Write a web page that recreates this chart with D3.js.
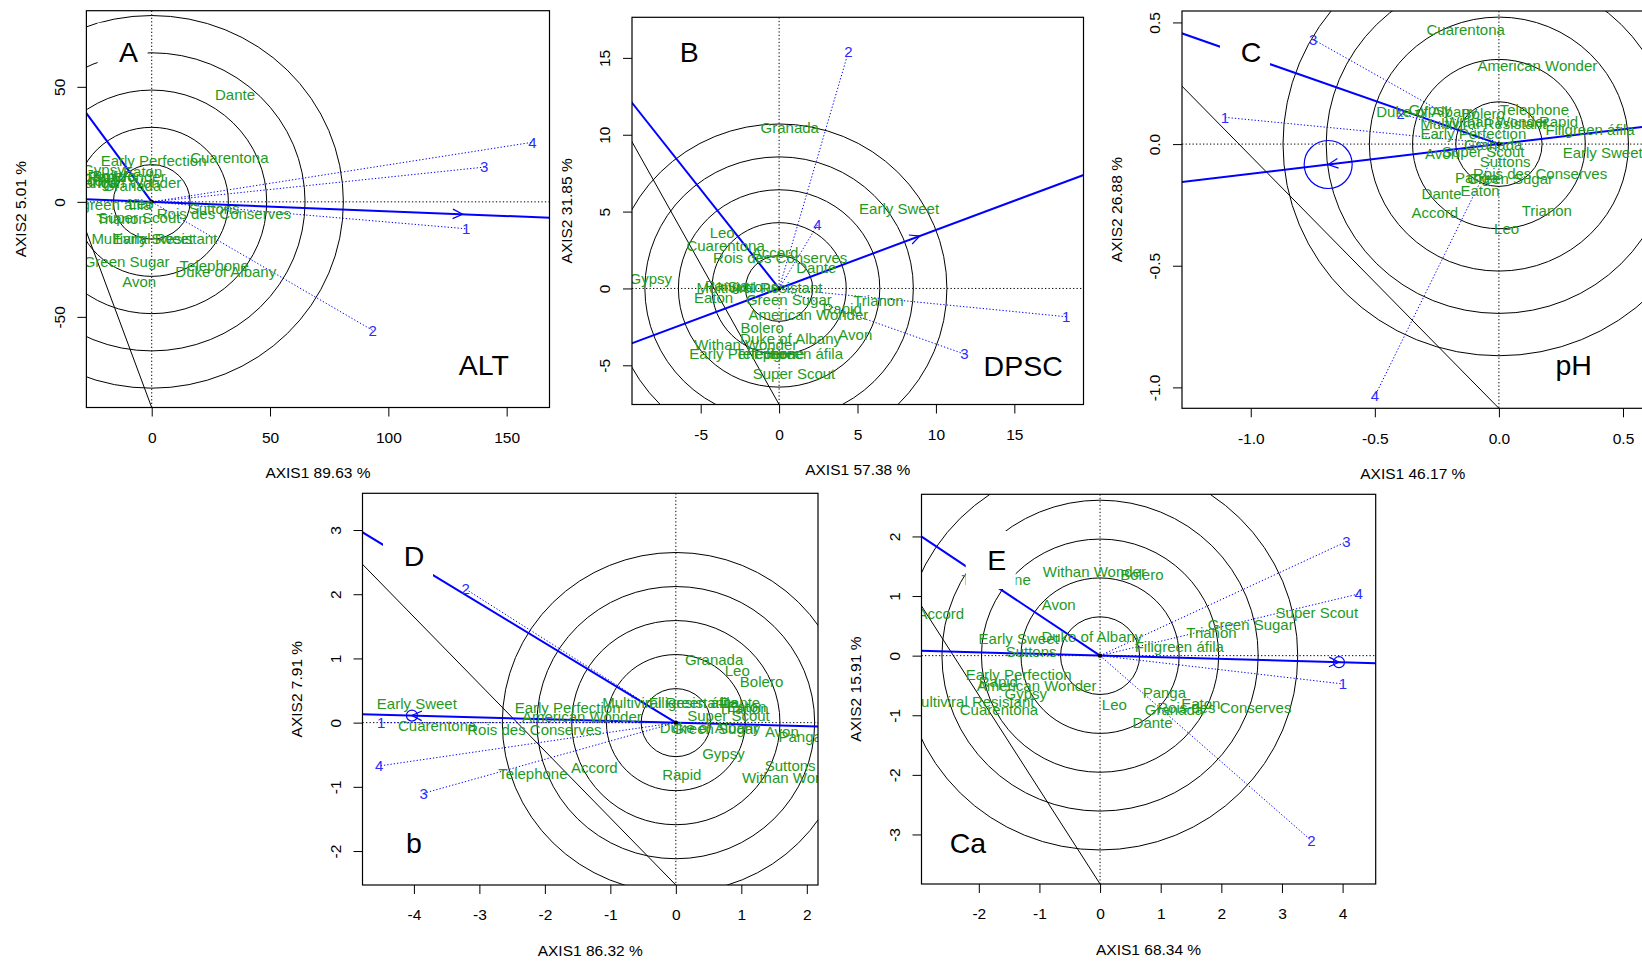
<!DOCTYPE html>
<html><head><meta charset="utf-8">
<script src="https://cdn.jsdelivr.net/npm/d3@7"></script>
<style>body{margin:0;background:#fff}svg{display:block}</style>
</head><body>
<svg id="c" width="1642" height="962"></svg>
<script>
// ---------------- DATA ----------------
const genotypes = ["Accord","American Wonder","Avon","Bolero","Cuarentona","Dante","Duke of Albany",
  "Early Perfection","Early Sweet","Eaton","Filigreen áfila","Green Sugar","Granada","Gypsy","Leo",
  "Multiviral Resistant","Panga","Rapid","Rois des Conserves","Super Scout","Suttons","Telephone",
  "Trianon","Withan Wonder"];
const envNames = ["1","2","3","4"];

// Panel A (ALT)
const altGenX = [-24.9,-12.8,-5.3,-15.9,32.8,35.2,31.3,0.8,0.5,-3.8,-18.9,-10.6,-8.3,-20.4,-4.5,1.1,-23.4,-18.9,30.5,-5.3,26.4,26.4,-12.8,-15.9];
const altGenY = [9.3,8.5,-34.6,11.4,19.0,46.6,-30.5,17.9,-16.1,13.3,-1.2,-25.9,7.1,13.9,-0.9,-16.1,8.1,11.0,-5.2,-6.9,-3.0,-27.9,-7.4,10.7];
const altEnvX = [132.9,93.4,140.5,160.9];
const altEnvY = [-11.7,-55.9,15.1,25.9];
const altAvg = [131.4,-5.4];
const altPerp = [-27.6,38.5];
const altBlack = [[-27.6,-13],[0,-89.4]];
const altRing = 16.2;
const altXTicks = [0,50,100,150], altXLabels = ["0","50","100","150"];
const altYTicks = [-50,0,50], altYLabels = ["-50","0","50"];

// Panel B (DPSC)
const dpscGenX = [-0.26,1.87,4.86,-1.08,-3.41,2.37,0.73,-2.35,7.65,-4.18,1.23,0.62,0.68,-8.18,-3.63,-1.25,-3.34,4.02,0.07,0.95,-1.67,-0.59,6.33,-2.13];
const dpscGenY = [2.34,-1.69,-2.99,-2.56,2.75,1.34,-3.25,-4.27,5.16,-0.59,-4.27,-0.76,10.48,0.65,3.62,0.07,0.15,-1.30,2.02,-5.53,0.12,-4.23,-0.82,-3.64];
const dpscEnvX = [18.31,4.42,11.82,2.44];
const dpscEnvY = [-1.84,15.40,-4.27,4.12];
const dpscAvg = [8.97,3.41];
const dpscPerp = [-9.38,12.08];
const dpscBlack = [[-9.38,9.54],[0,-7.55]];
const dpscRing = 2.14;
const dpscXTicks = [-5,0,5,10,15], dpscXLabels = ["-5","0","5","10","15"];
const dpscYTicks = [-5,0,5,10,15], dpscYLabels = ["-5","0","5","10","15"];

// Panel C (pH)
const phGenX = [-0.258,0.155,-0.229,-0.063,-0.134,-0.231,-0.291,-0.103,0.418,-0.076,0.367,0.045,-0.023,-0.278,0.031,-0.063,-0.090,0.240,0.166,-0.063,0.025,0.143,0.193,-0.009];
const phGenY = [-0.282,0.321,-0.038,0.126,0.471,-0.203,0.133,0.041,-0.036,-0.192,0.058,-0.141,-0.004,0.142,-0.347,0.085,-0.137,0.092,-0.121,-0.032,-0.073,0.140,-0.274,0.092];
const phEnvX = [-1.104,-0.396,-0.748,-0.500];
const phEnvY = [0.110,0.126,0.430,-1.036];
const phAvg = [-0.688,-0.084];
const phPerp = [-1.277,0.455];
const phBlack = [[-1.277,0.238],[0,-1.086]];
const phRing = 0.174;
const phXTicks = [-1.0,-0.5,0.0,0.5], phXLabels = ["-1.0","-0.5","0.0","0.5"];
const phYTicks = [-1.0,-0.5,0.0,0.5], phYLabels = ["-1.0","-0.5","0.0","0.5"];

// Panel D (b)
const bGenX = [-1.244,-1.435,1.619,1.309,-3.644,0.982,0.524,-1.653,-3.955,1.084,0.269,0.600,0.584,0.727,0.938,-0.163,1.899,0.091,-2.160,0.804,1.746,-2.182,1.033,1.797];
const bGenY = [-0.701,0.093,-0.140,0.633,-0.047,0.302,-0.087,0.234,0.291,0.249,0.302,-0.103,0.976,-0.477,0.805,0.312,-0.227,-0.804,-0.114,0.104,-0.674,-0.800,0.224,-0.866];
const bEnvX = [-4.50,-3.21,-3.85,-4.53];
const bEnvY = [0.0,2.08,-1.10,-0.675];
const bAvg = [-4.03,0.11];
const bPerp = [-4.785,2.965];
const bBlack = [[-4.785,2.466],[0,-2.529]];
const bRing = 0.53;
const bXTicks = [-4,-3,-2,-1,0,1,2], bXLabels = ["-4","-3","-2","-1","0","1","2"];
const bYTicks = [-2,-1,0,1,2,3], bYLabels = ["-2","-1","0","1","2","3"];

// Panel E (Ca)
const caGenX = [-2.627,-1.048,-0.683,0.689,-1.667,0.866,-0.135,-1.343,-1.343,1.661,1.307,2.485,1.219,-1.225,0.236,-2.120,1.060,-1.677,2.05,3.575,-1.137,-1.714,1.837,-0.094];
const caGenY = [0.699,-0.503,0.850,1.365,-0.900,-1.124,0.319,-0.324,0.291,-0.811,0.151,0.515,-0.912,-0.632,-0.828,-0.772,-0.621,-0.436,-0.867,0.727,0.067,1.270,0.391,1.409];
const caEnvX = [4.005,3.486,4.064,4.264];
const caEnvY = [-0.475,-3.104,1.913,1.035];
const caAvg = [3.94,-0.11];
const caPerp = [-2.945,1.997];
const caBlack = [[-2.945,0.833],[0,-3.831]];
const caRing = 0.652;
const caXTicks = [-2,-1,0,1,2,3,4], caXLabels = ["-2","-1","0","1","2","3","4"];
const caYTicks = [-3,-2,-1,0,1,2], caYLabels = ["-3","-2","-1","0","1","2"];

// ---------------- LAYOUT / OPTIONS ----------------
const panels = [
  {id:"A", letter:"A", letterXY:[128.6,61.7], corner:"ALT", cornerXY:[483.9,375],
   box:{l:86.4,r:549.5,t:10.7,b:407.5}, xdom:[-27.6,168.1], ydom:[-89.4,83.1],
   xt:altXTicks, xtl:altXLabels, yt:altYTicks, ytl:altYLabels, xlab:"AXIS1 89.63 %", ylab:"AXIS2 5.01 %",
   gx:altGenX, gy:altGenY, ex:altEnvX, ey:altEnvY, avg:altAvg, perp:altPerp, blk:altBlack, ring:altRing, avgR:0},
  {id:"B", letter:"B", letterXY:[689.2,61.7], corner:"DPSC", cornerXY:[1023.2,375.7],
   box:{l:632,r:1083.5,t:17.3,b:404.5}, xdom:[-9.38,19.41], ydom:[-7.55,17.64],
   xt:dpscXTicks, xtl:dpscXLabels, yt:dpscYTicks, ytl:dpscYLabels, xlab:"AXIS1 57.38 %", ylab:"AXIS2 31.85 %",
   gx:dpscGenX, gy:dpscGenY, ex:dpscEnvX, ey:dpscEnvY, avg:dpscAvg, perp:dpscPerp, blk:dpscBlack, ring:dpscRing, avgR:0},
  {id:"C", letter:"C", letterXY:[1251,61.7], corner:"pH", cornerXY:[1573.6,375],
   box:{l:1182,r:1643.6,t:11,b:408.3}, xdom:[-1.277,0.583], ydom:[-1.086,0.547],
   xt:phXTicks, xtl:phXLabels, yt:phYTicks, ytl:phYLabels, xlab:"AXIS1 46.17 %", ylab:"AXIS2 26.88 %",
   gx:phGenX, gy:phGenY, ex:phEnvX, ey:phEnvY, avg:phAvg, perp:phPerp, blk:phBlack, ring:phRing, avgR:24},
  {id:"D", letter:"D", letterXY:[414,565.7], corner:"b", cornerXY:[414,853.3],
   box:{l:362.5,r:818,t:493.3,b:885}, xdom:[-4.785,2.171], ydom:[-2.529,3.572],
   xt:bXTicks, xtl:bXLabels, yt:bYTicks, ytl:bYLabels, xlab:"AXIS1 86.32 %", ylab:"AXIS2 7.91 %",
   gx:bGenX, gy:bGenY, ex:bEnvX, ey:bEnvY, avg:bAvg, perp:bPerp, blk:bBlack, ring:bRing, avgR:5.5},
  {id:"E", letter:"E", letterXY:[996.7,570], corner:"Ca", cornerXY:[967.9,853.3],
   box:{l:921.5,r:1375.7,t:494.3,b:884}, xdom:[-2.945,4.546], ydom:[-3.831,2.707],
   xt:caXTicks, xtl:caXLabels, yt:caYTicks, ytl:caYLabels, xlab:"AXIS1 68.34 %", ylab:"AXIS2 15.91 %",
   gx:caGenX, gy:caGenY, ex:caEnvX, ey:caEnvY, avg:caAvg, perp:caPerp, blk:caBlack, ring:caRing, avgR:5.5}
];

const FONT = "'Liberation Sans', Arial, Helvetica, sans-serif";
const GREEN = "#1f9a1f", BLUE = "#0000ff", EBLUE = "#2b2bff";
const svg = d3.select("#c").style("font-family", FONT);
const defs = svg.append("defs");

panels.forEach(p => {
  const b = p.box;
  const x = d3.scaleLinear().domain(p.xdom).range([b.l, b.r]);
  const y = d3.scaleLinear().domain(p.ydom).range([b.b, b.t]);
  defs.append("clipPath").attr("id", "clip" + p.id).append("rect")
    .attr("x", b.l).attr("y", b.t).attr("width", b.r - b.l).attr("height", b.b - b.t);
  const g = svg.append("g");
  const inner = g.append("g").attr("clip-path", `url(#clip${p.id})`);
  const ox = x(0), oy = y(0);

  // concentric rings
  inner.selectAll("ellipse.ring").data(d3.range(1, 6)).join("ellipse")
    .attr("cx", ox).attr("cy", oy)
    .attr("rx", d => x(d * p.ring) - ox).attr("ry", d => oy - y(d * p.ring))
    .attr("fill", "none").attr("stroke", "#000").attr("stroke-width", 1);

  // dotted axes
  inner.append("line").attr("x1", b.l).attr("x2", b.r).attr("y1", oy).attr("y2", oy)
    .attr("stroke", "#000").attr("stroke-width", 1).attr("stroke-dasharray", "1.3,2.2");
  inner.append("line").attr("x1", ox).attr("x2", ox).attr("y1", b.t).attr("y2", b.b)
    .attr("stroke", "#000").attr("stroke-width", 1).attr("stroke-dasharray", "1.3,2.2");

  // black line
  const [p1, p2] = p.blk;
  const k = 3;
  inner.append("line")
    .attr("x1", x(p2[0] + (p1[0] - p2[0]) * k)).attr("y1", y(p2[1] + (p1[1] - p2[1]) * k))
    .attr("x2", x(p2[0])).attr("y2", y(p2[1]))
    .attr("stroke", "#000").attr("stroke-width", 1);

  // environment vectors (dotted blue)
  inner.selectAll("line.env").data(p.ex).join("line")
    .attr("x1", ox).attr("y1", oy).attr("x2", (d) => x(d)).attr("y2", (d, i) => y(p.ey[i]))
    .attr("stroke", BLUE).attr("stroke-width", 1).attr("stroke-dasharray", "1.3,2");

  // average environment axis (blue solid, through origin)
  const ax = x(p.avg[0]), ay = y(p.avg[1]);
  const K = 50;
  inner.append("line")
    .attr("x1", ox - (ax - ox) * K).attr("y1", oy - (ay - oy) * K)
    .attr("x2", ox + (ax - ox) * K).attr("y2", oy + (ay - oy) * K)
    .attr("stroke", BLUE).attr("stroke-width", 2);
  // arrow head
  const ang = Math.atan2(ay - oy, ax - ox), L = 11, spread = 0.45;
  inner.append("path")
    .attr("d", `M${ax - L * Math.cos(ang - spread)},${ay - L * Math.sin(ang - spread)}L${ax},${ay}L${ax - L * Math.cos(ang + spread)},${ay - L * Math.sin(ang + spread)}`)
    .attr("fill", "none").attr("stroke", BLUE).attr("stroke-width", 1.2);
  if (p.avgR > 0) {
    inner.append("circle").attr("cx", ax).attr("cy", ay).attr("r", p.avgR)
      .attr("fill", "none").attr("stroke", BLUE).attr("stroke-width", 1.2);
  }
  // second blue line from origin
  const px = x(p.perp[0]), py = y(p.perp[1]);
  inner.append("line").attr("x1", ox).attr("y1", oy)
    .attr("x2", ox + (px - ox) * 2).attr("y2", oy + (py - oy) * 2)
    .attr("stroke", BLUE).attr("stroke-width", 2);

  inner.append("circle").attr("cx", ox).attr("cy", oy).attr("r", 2.2).attr("fill", "#000");

  // genotype labels
  inner.selectAll("text.gen").data(genotypes).join("text")
    .attr("x", (d, i) => x(p.gx[i])).attr("y", (d, i) => y(p.gy[i])).attr("dy", "0.35em")
    .attr("text-anchor", "middle").attr("font-size", 15).attr("fill", GREEN).text(d => d);
  // environment labels
  inner.selectAll("text.env").data(envNames).join("text")
    .attr("x", (d, i) => x(p.ex[i])).attr("y", (d, i) => y(p.ey[i])).attr("dy", "0.35em")
    .attr("text-anchor", "middle").attr("font-size", 15).attr("fill", EBLUE).text(d => d);

  // panel letter with white box
  const [lx, ly] = p.letterXY;
  g.append("rect").attr("x", lx - 31).attr("y", ly - 39).attr("width", 50).attr("height", 58).attr("fill", "#fff");
  g.append("text").attr("x", lx).attr("y", ly).attr("text-anchor", "middle")
    .attr("font-size", 28.5).attr("fill", "#000").text(p.letter);
  g.append("text").attr("x", p.cornerXY[0]).attr("y", p.cornerXY[1]).attr("text-anchor", "middle")
    .attr("font-size", 28.5).attr("fill", "#000").text(p.corner);

  // axes
  const xa = g.append("g").attr("transform", `translate(0,${b.b})`)
    .call(d3.axisBottom(x).tickValues(p.xt).tickFormat((d, i) => p.xtl[i]).tickSize(9));
  xa.select(".domain").remove();
  xa.selectAll("text").attr("y", 30).attr("dy", "0.35em").attr("font-size", 15.5)
    .attr("font-family", FONT).attr("fill", "#000");
  xa.selectAll("line").attr("stroke", "#000");
  const ya = g.append("g").attr("transform", `translate(${b.l},0)`)
    .call(d3.axisLeft(y).tickValues(p.yt).tickFormat((d, i) => p.ytl[i]).tickSize(9));
  ya.select(".domain").remove();
  ya.selectAll("text").attr("x", 0).attr("y", 0).attr("dy", "0.35em")
    .attr("transform", "translate(-27,0) rotate(-90)").attr("text-anchor", "middle")
    .attr("font-size", 15.5).attr("font-family", FONT).attr("fill", "#000");
  ya.selectAll("line").attr("stroke", "#000");

  // axis titles
  g.append("text").attr("x", (b.l + Math.min(b.r, 1643.6)) / 2).attr("y", b.b + 65.5).attr("dy", "0.35em")
    .attr("text-anchor", "middle").attr("font-size", 15.5).text(p.xlab);
  g.append("text").attr("transform", `translate(${b.l - 65.7},${(b.t + b.b) / 2}) rotate(-90)`)
    .attr("dy", "0.35em").attr("text-anchor", "middle").attr("font-size", 15.5).text(p.ylab);

  // box
  g.append("rect").attr("x", b.l).attr("y", b.t).attr("width", b.r - b.l).attr("height", b.b - b.t)
    .attr("fill", "none").attr("stroke", "#000").attr("stroke-width", 1.2);
});
</script>
</body></html>
